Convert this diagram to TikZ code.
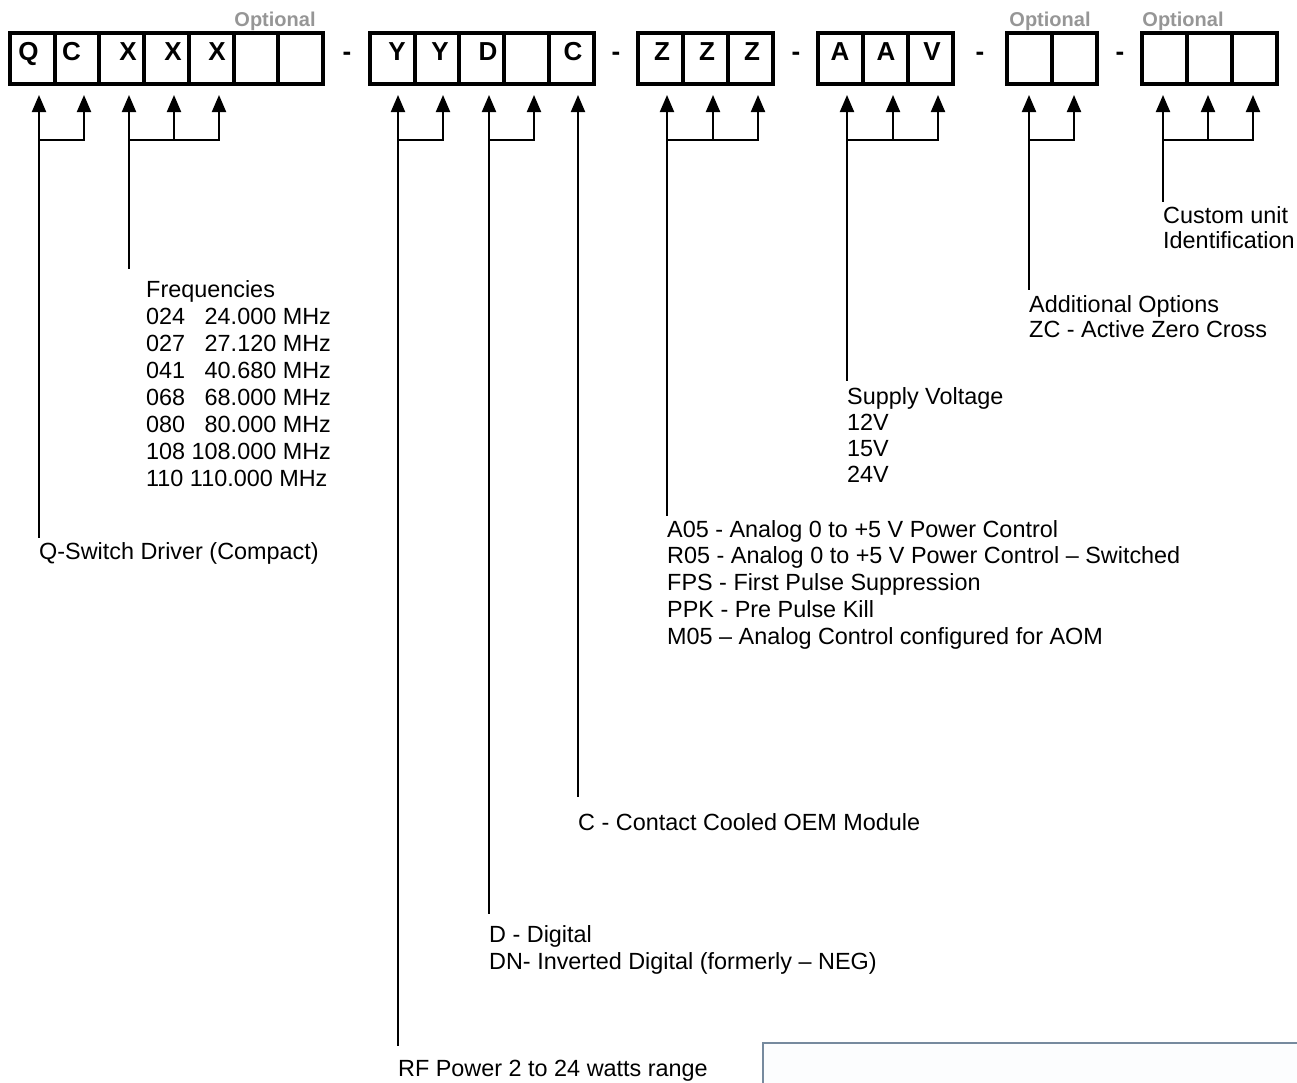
\documentclass[tikz,border=0pt]{standalone}
\usepackage{fontspec}
\setmainfont{Liberation Sans}
\usetikzlibrary{arrows.meta}
\definecolor{optgray}{RGB}{150,150,150}
\definecolor{frameblue}{RGB}{118,138,158}
\newcommand\mylines[2]{\vtop{\baselineskip=#1\relax #2}}
\begin{document}
\begin{tikzpicture}[x=1pt,y=-1pt,
  cellA/.style={draw,line width=4pt,minimum width=44.7pt,minimum height=51pt,inner sep=0pt,outer sep=0pt},
  cellB/.style={draw,line width=4pt,minimum width=45pt,minimum height=51pt,inner sep=0pt,outer sep=0pt},
  letter/.style={font=\fontsize{26}{30}\selectfont\bfseries,anchor=base,inner sep=0pt},
  opt/.style={font=\fontsize{20}{24}\selectfont\bfseries,text=optgray,anchor=base,inner sep=0pt},
  lbl/.style={font=\fontsize{23.4}{27}\selectfont,anchor=base west,inner sep=0pt},
  conn/.style={line width=2pt,line cap=rect},
  arr/.style={line width=2pt,-{Triangle[width=14pt,length=17pt]}},
]
\useasboundingbox (0,0) rectangle (1297,1082);

% ---- cells ----
\foreach \x [count=\i] in {32.35,77.05,121.75,166.45,211.15,255.85,300.55}
  \node[cellA] (ga\i) at (\x,58.5) {};
\foreach \x [count=\i] in {392.35,437.05,481.75,526.45,571.15}
  \node[cellA] (gb\i) at (\x,58.5) {};
\foreach \x [count=\i] in {660.5,705.5,750.5}
  \node[cellB] (gc\i) at (\x,58.5) {};
\foreach \x [count=\i] in {840.5,885.5,930.5}
  \node[cellB] (gd\i) at (\x,58.5) {};
\foreach \x [count=\i] in {1029.5,1074.5}
  \node[cellB] (ge\i) at (\x,58.5) {};
\foreach \x [count=\i] in {1164.5,1209.5,1254.5}
  \node[cellB] (gf\i) at (\x,58.5) {};

% ---- letters ----
\foreach \x/\t [count=\i] in {28.5/Q,71.5/C,128/X,173/X,217/X,397/Y,440/Y,488/D,573/C,662/Z,707/Z,752/Z,840/A,886/A,932/V}
  \node[letter] (L\i) at (\x,60) {\t};

% ---- dashes ----
\foreach \x [count=\i] in {347,616,796,980,1120}
  \node[letter] (dash\i) at (\x,60) {-};

% ---- optional labels ----
\node[opt] (opt1) at (275,26) {Optional};
\node[opt] (opt2) at (1050,26) {Optional};
\node[opt] (opt3) at (1183,26) {Optional};

% ---- arrows ----
\foreach \x [count=\i] in {39,84,129,174,219,398,443,489,534,578,667,713,758,847,893,938,1029,1074,1163,1208,1253}{
  \coordinate (b\i) at (\x,140);
  \coordinate (t\i) at (\x,95);
  \draw[arr] (b\i) -- (t\i);
}

% ---- line ends ----
\coordinate (e1) at (39,537);
\coordinate (e3) at (129,268);
\coordinate (e6) at (398,1045);
\coordinate (e8) at (489,913);
\coordinate (e10) at (578,796);
\coordinate (e11) at (667,515);
\coordinate (e14) at (847,380);
\coordinate (e17) at (1029,289);
\coordinate (e19) at (1163,201);

\draw[conn] (e1) -- (b1) -- (b2);
\draw[conn] (e3) -- (b3) -- (b5);
\draw[conn] (e6) -- (b6) -- (b7);
\draw[conn] (e8) -- (b8) -- (b9);
\draw[conn] (e10) -- (b10);
\draw[conn] (e11) -- (b11) -- (b13);
\draw[conn] (e14) -- (b14) -- (b16);
\draw[conn] (e17) -- (b17) -- (b18);
\draw[conn] (e19) -- (b19) -- (b21);

% ---- labels ----
\node[lbl] (qtxt) at (39,559) {Q-Switch Driver (Compact)};
\node[lbl] (ftxt) at (146,297) {\mylines{27pt}{\hbox{Frequencies}\hbox{024 \phantom{0}24.000 MHz}\hbox{027 \phantom{0}27.120 MHz}\hbox{041 \phantom{0}40.680 MHz}\hbox{068 \phantom{0}68.000 MHz}\hbox{080 \phantom{0}80.000 MHz}\hbox{108 108.000 MHz}\hbox{110 110.000 MHz}}};
\node[lbl] (rftxt) at (398,1076) {RF Power 2 to 24 watts range};
\node[lbl] (dtxt) at (489,942) {\mylines{27pt}{\hbox{D - Digital}\hbox{DN- Inverted Digital (formerly – NEG)}}};
\node[lbl] (ctxt) at (578,830) {C - Contact Cooled OEM Module};
\node[lbl] (ztxt) at (667,537) {\mylines{26.75pt}{\hbox{A05 - Analog 0 to +5 V Power Control}\hbox{R05 - Analog 0 to +5 V Power Control – Switched}\hbox{FPS - First Pulse Suppression}\hbox{PPK - Pre Pulse Kill}\hbox{M05 – Analog Control configured for AOM}}};
\node[lbl] (vtxt) at (847,404) {\mylines{26.3pt}{\hbox{Supply Voltage}\hbox{12V}\hbox{15V}\hbox{24V}}};
\node[lbl] (otxt) at (1029,312) {\mylines{25pt}{\hbox{Additional Options}\hbox{ZC - Active Zero Cross}}};
\node[lbl] (utxt) at (1163,223) {\mylines{25pt}{\hbox{Custom unit}\hbox{Identification}}};

% ---- partial frame bottom right ----
\begin{scope}
\clip (0,0) rectangle (1297,1082);
\draw[frameblue,line width=2pt,fill={rgb,255:red,252;green,253;blue,254}] (763,1110) -- (763,1043) -- (1320,1043) -- (1320,1110) -- cycle;
\end{scope}
\end{tikzpicture}
\end{document}
